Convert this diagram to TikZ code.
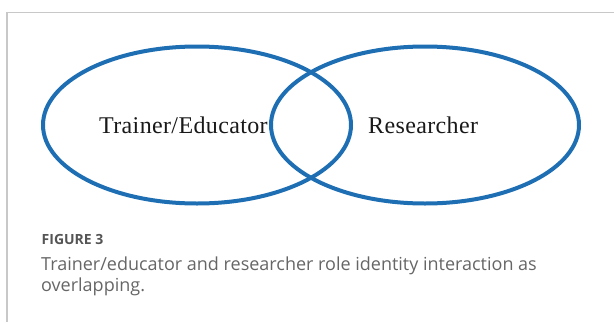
\documentclass[tikz,border=0pt]{standalone}
\usepackage{fontspec}
\setmainfont{Liberation Serif}[LetterSpace=1.5]
\newfontfamily\capfont{Open Sans}
\usetikzlibrary{shapes.geometric}
\definecolor{vennblue}{RGB}{30,110,180}
\definecolor{framegray}{RGB}{200,200,200}
\definecolor{captext}{RGB}{102,102,102}
\definecolor{capfig}{RGB}{85,85,85}
\tikzset{
  venn/.style={ellipse, draw=vennblue, line width=4pt, inner sep=0pt, minimum width=308pt, minimum height=157pt},
  lbl/.style={anchor=base west, inner sep=0pt, font=\fontsize{24}{28}\selectfont, text=black!90},
  capline/.style={anchor=base west, inner sep=0pt, text=captext, font=\capfont\fontsize{18}{22}\selectfont},
  capfig/.style={anchor=base west, inner sep=0pt, text=capfig, font=\capfont\bfseries\fontsize{14}{17}\selectfont}
}
\begin{document}
\begin{tikzpicture}[x=1pt,y=-1pt]
\useasboundingbox (0,0) rectangle (614,322);
\draw[framegray, line width=1.5pt] (7,322) -- (7,12.7) -- (614,12.7);
\node[lbl] (t1) at (99,133) {Trainer/Educator};
\node[lbl] (t2) at (368,133) {Researcher};
\node[venn] (left) at (197,125) {};
\node[venn] (right) at (425,125) {};
\node[capfig] (fig) at (41.5,244.3) {FIGURE 3};
\node[capline] (c1) at (41,270) {Trainer/educator and researcher role identity interaction as};
\node[capline] (c2) at (41,291.7) {overlapping.};
\end{tikzpicture}
\end{document}
